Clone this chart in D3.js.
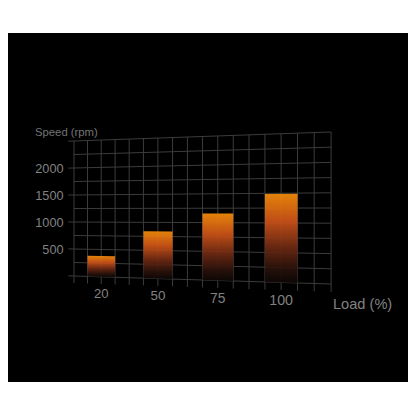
<!DOCTYPE html>
<html>
<head>
<meta charset="utf-8">
<script src="https://cdn.jsdelivr.net/npm/d3@7"></script>
<style>
  body { margin: 0; background: #fff; }
  text { font-family: "Liberation Sans", Arial, sans-serif; }
</style>
</head>
<body>
<div class="chart"></div>
<script>
// chart data
var loads = ["20", "50", "75", "100"];
var speeds = [380, 840, 1160, 1490];
var speedTicks = [500, 1000, 1500, 2000];
var yTitle = "Speed (rpm)";
var xTitle = "Load (%)";

drawChart();

function drawChart(){
    var w = 416;
    var h = 416;

    var svg = d3.select(".chart")
    .append("svg")
    .attr("width", w)
    .attr("height", h);

    // black panel
    svg.append("rect")
    .attr("x", 8)
    .attr("y", 33)
    .attr("width", 400)
    .attr("height", 349)
    .attr("fill", "#000");

    // scales: columns of the grid and value axis
    var nCols = 17;
    var colScale = d3.scaleLinear().domain([0, nCols]).range([0, 1]);
    var valScale = d3.scaleLinear().domain([0, 2500]).range([0, 1]);
    var catScale = d3.scalePoint().domain(loads).range([2, 14]);

    // perspective of the grid plane (left edge nearer than right edge)
    var g = -0.112;
    function proj(u, v){
        var k = 1 + g * u;
        return [74 + 228.3 * u / k, (276 - 23.8 * u - 135 * v) / k];
    }
    function depth(u){ return 1 / (1 + g * u); }

    var line = d3.line();

    // horizontal grid lines every 250, majors with a little tick to the left
    var hVals = d3.range(0, 2501, 250);
    svg.append("g")
    .selectAll("path")
    .data(hVals)
    .enter()
    .append("path")
    .attr("d", function(d){
        var v = valScale(d);
        var u0 = d % 500 === 0 ? -0.025 : 0;
        return line([proj(u0, v), proj(1, v)]);
    })
    .attr("fill", "none")
    .attr("stroke", "#3c3c3c")
    .attr("stroke-width", 1);

    // vertical grid lines, running a bit below zero
    svg.append("g")
    .selectAll("path")
    .data(d3.range(0, nCols + 1))
    .enter()
    .append("path")
    .attr("d", function(d){
        var u = colScale(d);
        return line([proj(u, -0.052), proj(u, 1)]);
    })
    .attr("fill", "none")
    .attr("stroke", "#3c3c3c")
    .attr("stroke-width", 1);

    // bar gradient
    var grad = svg.append("defs")
    .append("linearGradient")
    .attr("id", "barGrad")
    .attr("x1", 0).attr("y1", 0)
    .attr("x2", 0).attr("y2", 1);
    grad.append("stop").attr("offset", "0%").attr("stop-color", "#f58d0a");
    grad.append("stop").attr("offset", "30%").attr("stop-color", "#cf5418");
    grad.append("stop").attr("offset", "60%").attr("stop-color", "#6e2913");
    grad.append("stop").attr("offset", "85%").attr("stop-color", "#27110a");
    grad.append("stop").attr("offset", "100%").attr("stop-color", "#0d0705");

    // bars
    svg.append("g")
    .selectAll("path")
    .data(loads)
    .enter()
    .append("path")
    .attr("d", function(d, i){
        var c = catScale(d);
        var u0 = colScale(c - 1);
        var u1 = colScale(c + 1);
        var v = valScale(speeds[i]);
        return line([proj(u0, 0), proj(u1, 0), proj(u1, v), proj(u0, v)]) + "Z";
    })
    .attr("fill", "url(#barGrad)")
    .attr("fill-opacity", 0.93);

    // value labels
    svg.append("g")
    .selectAll("text")
    .data(speedTicks)
    .enter()
    .append("text")
    .attr("x", 63.5)
    .attr("y", function(d){ return proj(0, valScale(d))[1]; })
    .attr("dy", "0.36em")
    .attr("text-anchor", "end")
    .attr("font-size", 12.7)
    .attr("fill", "#828282")
    .text(function(d){ return d; });

    // load labels, growing with the perspective
    svg.append("g")
    .selectAll("text")
    .data(loads)
    .enter()
    .append("text")
    .attr("x", function(d){ return proj(colScale(catScale(d)), -0.12)[0]; })
    .attr("y", function(d){ return proj(colScale(catScale(d)), -0.12)[1]; })
    .attr("dy", "0.36em")
    .attr("text-anchor", "middle")
    .attr("font-size", function(d){ return 12.9 * depth(colScale(catScale(d))); })
    .attr("fill", "#828282")
    .text(function(d){ return d; });

    // axis titles
    svg.append("text")
    .attr("x", 35)
    .attr("y", 136)
    .attr("font-size", 11.3)
    .attr("fill", "#747474")
    .text(yTitle);

    svg.append("text")
    .attr("x", 333)
    .attr("y", 308.5)
    .attr("font-size", 14.6)
    .attr("fill", "#828282")
    .text(xTitle);
}
</script>
</body>
</html>
